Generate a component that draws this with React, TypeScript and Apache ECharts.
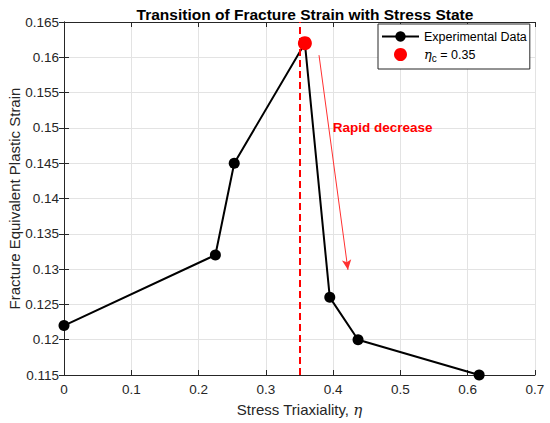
import React, { useEffect, useRef } from "react";
import * as echarts from "echarts";

const triaxiality = [0, 0.225, 0.253, 0.358, 0.395, 0.437, 0.617];
const fractureStrain = [0.122, 0.132, 0.145, 0.162, 0.126, 0.12, 0.115];
const criticalPoint = [0.358, 0.162];
const criticalEta = 0.35;
const arrowStart = [0.379, 0.1603];
const arrowEnd = [0.422, 0.1299];
const annotationPos = [0.3995, 0.15];

const FONT = "'Liberation Sans', Arial, Helvetica, sans-serif";
const AX = "#262626";
const GRID = "#e3e3e3";

export default function App() {
  const ref = useRef<HTMLDivElement>(null);
  useEffect(() => {
    document.body.style.margin = "0";
    const chart = echarts.init(ref.current!, null, { renderer: "svg" });
    const fmt = (v: number) => String(+v.toFixed(3));
    const axisCommon = {
      axisLine: { show: true, lineStyle: { color: AX, width: 1 } },
      axisTick: { show: true, inside: true, length: 5, lineStyle: { color: AX } },
    };
    chart.setOption({
      animation: false,
      textStyle: { fontFamily: FONT },
      title: {
        text: "Transition of Fracture Strain with Stress State",
        left: 300,
        top: 1,
        textAlign: "center",
        textStyle: { fontFamily: FONT, fontSize: 15.5, fontWeight: "bold", color: "#000" },
      },
      legend: {
        orient: "vertical",
        left: 378,
        top: 24,
        align: "left",
        padding: [6, 3, 6, 3],
        itemGap: 5,
        itemWidth: 37,
        itemHeight: 13,
        borderColor: AX,
        borderWidth: 1,
        backgroundColor: "#fff",
        data: [
          { name: "Experimental Data" },
          { name: "Critical", icon: "circle", itemStyle: { color: "#ff0000", opacity: 1 } },
        ],
        formatter: (name: string) =>
          name === "Critical" ? "{i|η}{s|c}{n| = 0.35}" : name,
        textStyle: {
          fontFamily: FONT,
          fontSize: 12.5,
          color: "#000",
          rich: {
            i: { fontFamily: "'DejaVu Serif', serif", fontStyle: "italic", fontSize: 13, color: "#000" },
            s: { fontSize: 10, color: "#000", verticalAlign: "bottom", padding: [7, 0, 0, 0] },
            n: { fontSize: 12.5, color: "#000" },
          },
        },
      },
      grid: { left: 64, right: 15, top: 22, bottom: 48, containLabel: false, outerBoundsMode: "none" },
      xAxis: [
        {
          type: "value",
          min: 0,
          max: 0.7,
          interval: 0.1,
          ...axisCommon,
          axisLabel: { color: AX, fontSize: 13.5, fontFamily: FONT, margin: 7, formatter: fmt },
          splitLine: { show: true, lineStyle: { color: GRID, width: 1 } },
          name: "Stress Triaxiality, {i|η}",
          nameLocation: "middle",
          nameGap: 27,
          nameMoveOverlap: false,
          nameTextStyle: {
            color: AX,
            fontSize: 15,
            fontFamily: FONT,
            rich: {
              i: { fontFamily: "'DejaVu Serif', serif", fontStyle: "italic", fontSize: 15, color: AX },
            },
          },
        },
        {
          type: "value",
          position: "top",
          min: 0,
          max: 0.7,
          interval: 0.1,
          ...axisCommon,
          axisLabel: { show: false },
          splitLine: { show: false },
        },
      ],
      yAxis: [
        {
          type: "value",
          min: 0.115,
          max: 0.165,
          interval: 0.005,
          ...axisCommon,
          axisLabel: { color: AX, fontSize: 13.5, fontFamily: FONT, margin: 5, formatter: fmt },
          splitLine: { show: true, lineStyle: { color: GRID, width: 1 } },
          name: "Fracture Equivalent Plastic Strain",
          nameLocation: "middle",
          nameGap: 42,
          nameMoveOverlap: false,
          nameTextStyle: { color: AX, fontSize: 15, fontFamily: FONT },
        },
        {
          type: "value",
          position: "right",
          min: 0.115,
          max: 0.165,
          interval: 0.005,
          ...axisCommon,
          axisLabel: { show: false },
          splitLine: { show: false },
        },
      ],
      series: [
        {
          name: "Experimental Data",
          type: "line",
          data: triaxiality.map((x, i) => [x, fractureStrain[i]]),
          lineStyle: { color: "#000", width: 2 },
          itemStyle: { color: "#000" },
          symbol: "circle",
          symbolSize: 11,
          z: 3,
        },
        {
          name: "Critical",
          type: "scatter",
          data: [criticalPoint],
          symbolSize: 14,
          itemStyle: { color: "#ff0000", opacity: 1 },
          z: 4,
          markLine: {
            silent: true,
            symbol: ["none", "none"],
            label: { show: false },
            lineStyle: { color: "#ff0000", type: [7, 4], width: 2 },
            data: [{ xAxis: criticalEta }],
          },
        },
        {
          name: "Annotation",
          type: "scatter",
          data: [],
          markLine: {
            silent: true,
            symbol: ["none", "arrow"],
            symbolSize: [7, 10],
            label: { show: false },
            lineStyle: { color: "#ff3030", type: "solid", width: 1 },
            data: [[{ coord: arrowStart }, { coord: arrowEnd }]],
          },
          markPoint: {
            silent: true,
            symbol: "circle",
            symbolSize: 0,
            data: [{ coord: annotationPos }],
            label: {
              show: true,
              position: "inside",
              align: "left",
              verticalAlign: "middle",
              formatter: "Rapid decrease",
              color: "#ff0000",
              fontWeight: "bold",
              fontSize: 13.5,
              fontFamily: FONT,
            },
          },
        },
      ],
    });
    return () => chart.dispose();
  }, []);
  return <div ref={ref} style={{ width: 550, height: 423 }} />;
}
